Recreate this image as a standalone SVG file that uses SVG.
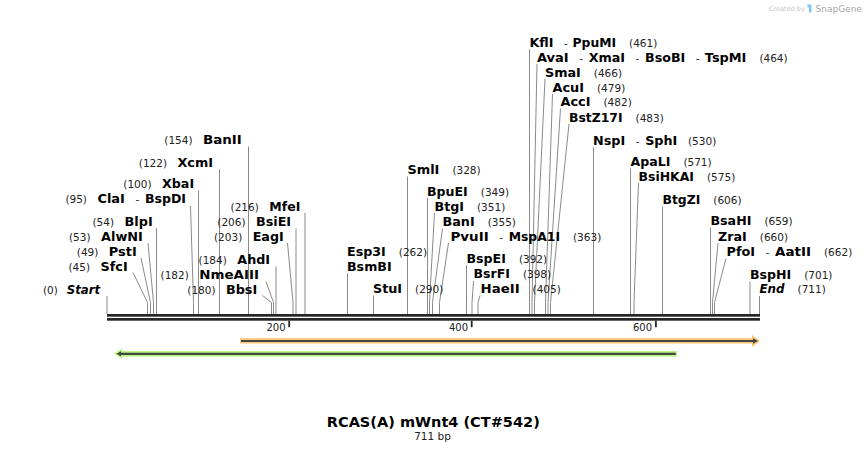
<svg xmlns="http://www.w3.org/2000/svg" width="866" height="453" viewBox="0 0 866 453">
<style>
.n{font-family:"DejaVu Sans",Verdana,sans-serif;font-weight:bold;font-size:12px;fill:#000}
.i{font-style:italic}
.c{font-family:"DejaVu Sans",Verdana,sans-serif;font-size:10.5px;fill:#222}
.ld{fill:none;stroke:#8a8a8a;stroke-width:1}
.bar{fill:#262626}
.tk{font-family:"DejaVu Sans",Verdana,sans-serif;font-size:10px;fill:#222;text-anchor:end}
</style>
<rect width="866" height="453" fill="#fff"/>
<g id="watermark">
<text x="769" y="11" style="font-family:'DejaVu Sans',sans-serif;font-size:6.5px;fill:#c4c4c4">Created by</text>
<path d="M807.5,4.5 h4 v8 h-2.5 v-5 h-1.5 z" fill="#7cc8ef"/>
<text x="815.5" y="11.5" style="font-family:'DejaVu Sans',sans-serif;font-size:9px;fill:#a8a8a8">SnapGene</text>
</g>
<g id="connectors">
<path class="ld" d="M107,296V314"/>
<path class="ld" d="M133,272.5L147.5,302.5V314"/>
<path class="ld" d="M141,258L150.5,302.5V314"/>
<path class="ld" d="M148,243L153.5,302.5V314"/>
<path class="ld" d="M156.5,228V314"/>
<path class="ld" d="M190.5,206L193.5,302.5V314"/>
<path class="ld" d="M198.5,190.5V314"/>
<path class="ld" d="M219.5,169V314"/>
<path class="ld" d="M248.5,146.5V314"/>
<path class="ld" d="M262.5,295.5L271.5,302.5V314"/>
<path class="ld" d="M266,281.5L273.5,302.5V314"/>
<path class="ld" d="M276,266.5V314"/>
<path class="ld" d="M287.5,243L293,302.5V314"/>
<path class="ld" d="M296,228.5V314"/>
<path class="ld" d="M305,213V314"/>
<path class="ld" d="M347.5,273V314"/>
<path class="ld" d="M373.5,295.5V314"/>
<path class="ld" d="M407.5,176.5V314"/>
<path class="ld" d="M427.5,198V314"/>
<path class="ld" d="M434.5,213L429.5,302.5V314"/>
<path class="ld" d="M442.5,228.5L432.5,302.5V314"/>
<path class="ld" d="M448.5,243L439.5,302.5V314"/>
<path class="ld" d="M466.5,265V314"/>
<path class="ld" d="M473.5,281L472,302.5V314"/>
<path class="ld" d="M480,295.5L478,302.5V314"/>
<path class="ld" d="M529.5,49V314"/>
<path class="ld" d="M537,64L532,302.5V314"/>
<path class="ld" d="M545,79L534.5,302.5V314"/>
<path class="ld" d="M552.5,94L545.5,302.5V314"/>
<path class="ld" d="M560.5,108.5L548,302.5V314"/>
<path class="ld" d="M569,124L550.5,302.5V314"/>
<path class="ld" d="M593.5,147.5V314"/>
<path class="ld" d="M630.5,168.5V314"/>
<path class="ld" d="M638.5,183L634,302.5V314"/>
<path class="ld" d="M662.5,206.5V314"/>
<path class="ld" d="M710.5,227.5V314"/>
<path class="ld" d="M718,243L712.5,302.5V314"/>
<path class="ld" d="M726,258.5L714.5,302.5V314"/>
<path class="ld" d="M750,281.5V314"/>
<path class="ld" d="M759.5,296V314"/>
</g>
<g id="sequence">
<rect class="bar" x="107" y="314" width="653" height="2.7"/>
<rect class="bar" x="107" y="318" width="653" height="2.7"/>
<rect class="bar" x="288.3" y="320.7" width="1.8" height="6.5"/>
<rect class="bar" x="470.8" y="320.7" width="1.8" height="6.5"/>
<rect class="bar" x="655" y="320.7" width="1.8" height="6.5"/>
<text class="tk" x="285.5" y="330.7">200</text>
<text class="tk" x="468" y="330.7">400</text>
<text class="tk" x="652" y="330.7">600</text>
</g>
<g id="feature-forward">
<path d="M240,338.3H752V335L760,341L752,347V343.5H240Z" fill="#fbc774"/>
<path d="M241,340H753V338.3L758,341L753,343.7V342H241Z" fill="#454545"/>
</g>
<g id="feature-reverse">
<path d="M677,351H122V348.5L114,353.8L122,359V356.7H677Z" fill="#bdf285"/>
<path d="M675.7,352.7H121V351.2L116.5,353.8L121,356.4V355H675.7Z" fill="#3f4a3f"/>
</g>
<g id="start"><text class="c" x="43" y="293.5">(0)</text><text class="n i" x="66.7" y="293.5" textLength="33.4" lengthAdjust="spacingAndGlyphs">Start</text></g>
<g id="SfcI"><text class="c" x="68.5" y="270.7">(45)</text><text class="n" x="100.5" y="270.7" textLength="27.2" lengthAdjust="spacingAndGlyphs">SfcI</text></g>
<g id="PstI"><text class="c" x="76.8" y="256">(49)</text><text class="n" x="108.8" y="256" textLength="27.9" lengthAdjust="spacingAndGlyphs">PstI</text></g>
<g id="AlwNI"><text class="c" x="69" y="240.7">(53)</text><text class="n" x="101" y="240.7" textLength="41.9" lengthAdjust="spacingAndGlyphs">AlwNI</text></g>
<g id="BlpI"><text class="c" x="92.5" y="226">(54)</text><text class="n" x="124.5" y="226" textLength="28.2" lengthAdjust="spacingAndGlyphs">BlpI</text></g>
<g id="ClaI"><text class="c" x="65.4" y="203.3">(95)</text><text class="n" x="97.4" y="203.3" textLength="27.5" lengthAdjust="spacingAndGlyphs">ClaI</text><text class="c" x="135.4" y="203.3">-</text><text class="n" x="144.9" y="203.3" textLength="41.1" lengthAdjust="spacingAndGlyphs">BspDI</text></g>
<g id="XbaI"><text class="c" x="123.3" y="188.3">(100)</text><text class="n" x="162" y="188.3" textLength="32.1" lengthAdjust="spacingAndGlyphs">XbaI</text></g>
<g id="XcmI"><text class="c" x="138.8" y="166.7">(122)</text><text class="n" x="177.5" y="166.7" textLength="35.5" lengthAdjust="spacingAndGlyphs">XcmI</text></g>
<g id="BanII"><text class="c" x="164.3" y="144">(154)</text><text class="n" x="203" y="144" textLength="38.8" lengthAdjust="spacingAndGlyphs">BanII</text></g>
<g id="BbsI"><text class="c" x="187.3" y="293.5">(180)</text><text class="n" x="226" y="293.5" textLength="31.2" lengthAdjust="spacingAndGlyphs">BbsI</text></g>
<g id="NmeAIII"><text class="c" x="160.6" y="279.3">(182)</text><text class="n" x="199.3" y="279.3" textLength="59.7" lengthAdjust="spacingAndGlyphs">NmeAIII</text></g>
<g id="AhdI"><text class="c" x="198.6" y="264">(184)</text><text class="n" x="237.3" y="264" textLength="32.8" lengthAdjust="spacingAndGlyphs">AhdI</text></g>
<g id="EagI"><text class="c" x="214" y="240.7">(203)</text><text class="n" x="252.7" y="240.7" textLength="31.1" lengthAdjust="spacingAndGlyphs">EagI</text></g>
<g id="BsiEI"><text class="c" x="217.3" y="226">(206)</text><text class="n" x="256" y="226" textLength="35.1" lengthAdjust="spacingAndGlyphs">BsiEI</text></g>
<g id="MfeI"><text class="c" x="230.6" y="210.7">(216)</text><text class="n" x="269.3" y="210.7" textLength="31" lengthAdjust="spacingAndGlyphs">MfeI</text></g>
<g id="Esp3I"><text class="n" x="347" y="256" textLength="38.8" lengthAdjust="spacingAndGlyphs">Esp3I</text><text class="c" x="398.8" y="256">(262)</text><text class="n" x="347" y="270.7" textLength="44.6" lengthAdjust="spacingAndGlyphs">BsmBI</text></g>
<g id="StuI"><text class="n" x="373" y="293.3" textLength="29.1" lengthAdjust="spacingAndGlyphs">StuI</text><text class="c" x="415.1" y="293.3">(290)</text></g>
<g id="SmlI"><text class="n" x="407.5" y="174" textLength="31.9" lengthAdjust="spacingAndGlyphs">SmlI</text><text class="c" x="452.4" y="174">(328)</text></g>
<g id="BpuEI"><text class="n" x="427" y="195.7" textLength="40.8" lengthAdjust="spacingAndGlyphs">BpuEI</text><text class="c" x="480.8" y="195.7">(349)</text></g>
<g id="BtgI"><text class="n" x="434.5" y="210.7" textLength="29.5" lengthAdjust="spacingAndGlyphs">BtgI</text><text class="c" x="477" y="210.7">(351)</text></g>
<g id="BanI"><text class="n" x="442.5" y="226" textLength="32.2" lengthAdjust="spacingAndGlyphs">BanI</text><text class="c" x="487.7" y="226">(355)</text></g>
<g id="PvuII"><text class="n" x="450.5" y="240.7" textLength="38.2" lengthAdjust="spacingAndGlyphs">PvuII</text><text class="c" x="499.2" y="240.7">-</text><text class="n" x="508.7" y="240.7" textLength="51.3" lengthAdjust="spacingAndGlyphs">MspA1I</text><text class="c" x="573" y="240.7">(363)</text></g>
<g id="BspEI"><text class="n" x="466.5" y="262.7" textLength="39.4" lengthAdjust="spacingAndGlyphs">BspEI</text><text class="c" x="518.9" y="262.7">(392)</text></g>
<g id="BsrFI"><text class="n" x="473.5" y="278.3" textLength="36.4" lengthAdjust="spacingAndGlyphs">BsrFI</text><text class="c" x="522.9" y="278.3">(398)</text></g>
<g id="HaeII"><text class="n" x="480.5" y="293.3" textLength="39.1" lengthAdjust="spacingAndGlyphs">HaeII</text><text class="c" x="532.6" y="293.3">(405)</text></g>
<g id="KflI"><text class="n" x="529.5" y="46.7" textLength="24" lengthAdjust="spacingAndGlyphs">KflI</text><text class="c" x="564" y="46.7">-</text><text class="n" x="572.5" y="46.7" textLength="43.6" lengthAdjust="spacingAndGlyphs">PpuMI</text><text class="c" x="629.1" y="46.7">(461)</text></g>
<g id="AvaI"><text class="n" x="537" y="61.7" textLength="31.7" lengthAdjust="spacingAndGlyphs">AvaI</text><text class="c" x="579.2" y="61.7">-</text><text class="n" x="588.7" y="61.7" textLength="36.4" lengthAdjust="spacingAndGlyphs">XmaI</text><text class="c" x="635.6" y="61.7">-</text><text class="n" x="645.1" y="61.7" textLength="40.2" lengthAdjust="spacingAndGlyphs">BsoBI</text><text class="c" x="695.8" y="61.7">-</text><text class="n" x="704.8" y="61.7" textLength="41.6" lengthAdjust="spacingAndGlyphs">TspMI</text><text class="c" x="759.4" y="61.7">(464)</text></g>
<g id="SmaI"><text class="n" x="545" y="76.7" textLength="35.8" lengthAdjust="spacingAndGlyphs">SmaI</text><text class="c" x="593.8" y="76.7">(466)</text></g>
<g id="AcuI"><text class="n" x="552.5" y="91.7" textLength="31.5" lengthAdjust="spacingAndGlyphs">AcuI</text><text class="c" x="597" y="91.7">(479)</text></g>
<g id="AccI"><text class="n" x="560.5" y="106" textLength="30" lengthAdjust="spacingAndGlyphs">AccI</text><text class="c" x="603.5" y="106">(482)</text></g>
<g id="BstZ17I"><text class="n" x="569" y="121.7" textLength="53.6" lengthAdjust="spacingAndGlyphs">BstZ17I</text><text class="c" x="635.6" y="121.7">(483)</text></g>
<g id="NspI"><text class="n" x="593" y="145" textLength="32.2" lengthAdjust="spacingAndGlyphs">NspI</text><text class="c" x="635.7" y="145">-</text><text class="n" x="645.2" y="145" textLength="32" lengthAdjust="spacingAndGlyphs">SphI</text><text class="c" x="688" y="145">(530)</text></g>
<g id="ApaLI"><text class="n" x="630.5" y="166" textLength="39.9" lengthAdjust="spacingAndGlyphs">ApaLI</text><text class="c" x="683.4" y="166">(571)</text></g>
<g id="BsiHKAI"><text class="n" x="638.5" y="180.7" textLength="55.5" lengthAdjust="spacingAndGlyphs">BsiHKAI</text><text class="c" x="707" y="180.7">(575)</text></g>
<g id="BtgZI"><text class="n" x="662.5" y="204" textLength="37.8" lengthAdjust="spacingAndGlyphs">BtgZI</text><text class="c" x="713.3" y="204">(606)</text></g>
<g id="BsaHI"><text class="n" x="710.5" y="225" textLength="40.9" lengthAdjust="spacingAndGlyphs">BsaHI</text><text class="c" x="764.4" y="225">(659)</text></g>
<g id="ZraI"><text class="n" x="718" y="240.7" textLength="28.8" lengthAdjust="spacingAndGlyphs">ZraI</text><text class="c" x="759.8" y="240.7">(660)</text></g>
<g id="PfoI"><text class="n" x="726.5" y="256" textLength="28.6" lengthAdjust="spacingAndGlyphs">PfoI</text><text class="c" x="765.6" y="256">-</text><text class="n" x="775.1" y="256" textLength="35.9" lengthAdjust="spacingAndGlyphs">AatII</text><text class="c" x="824" y="256">(662)</text></g>
<g id="BspHI"><text class="n" x="750" y="279.3" textLength="41.2" lengthAdjust="spacingAndGlyphs">BspHI</text><text class="c" x="804.2" y="279.3">(701)</text></g>
<g id="end"><text class="n i" x="759.5" y="293.3" textLength="25.1" lengthAdjust="spacingAndGlyphs">End</text><text class="c" x="797.6" y="293.3">(711)</text></g>
<g id="title">
<text x="433.3" y="427.3" text-anchor="middle" textLength="213" lengthAdjust="spacingAndGlyphs" style="font-family:'DejaVu Sans',Verdana,sans-serif;font-weight:bold;font-size:14px;fill:#000">RCAS(A) mWnt4 (CT#542)</text>
<text x="432.5" y="440" text-anchor="middle" style="font-family:'DejaVu Sans',Verdana,sans-serif;font-size:10.5px;fill:#222">711 bp</text>
</g>
</svg>
